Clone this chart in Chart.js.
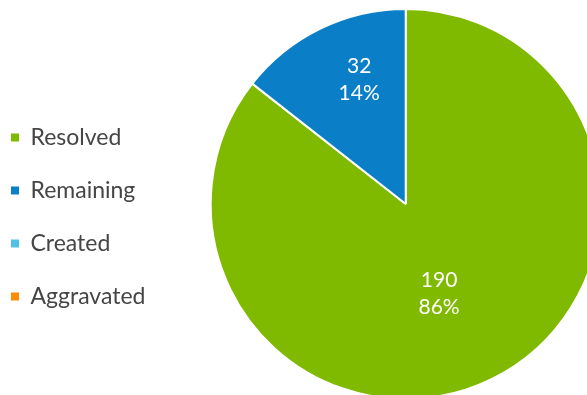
<!DOCTYPE html>
<html>
<head>
<meta charset="utf-8">
<script src="https://cdn.jsdelivr.net/npm/chart.js@4/dist/chart.umd.min.js"></script>
<style>
  html, body { margin: 0; padding: 0; background: #fff; overflow: hidden; }
  #wrap { width: 656px; height: 395px; position: relative; }
</style>
</head>
<body>
<div id="wrap"><canvas id="pieChart"></canvas></div>
<script>
    // Data for the chart
    const labels = ['Resolved', 'Remaining', 'Created', 'Aggravated'];
    const counts = [190, 32, 0, 0];
    const colors = ['#80BA00', '#0A7FC8', '#50C0E8', '#FF8C00'];

    // Value + percent labels drawn inside each slice
    const sliceLabels = {
        id: 'sliceLabels',
        afterDatasetsDraw(chart) {
            const ctx = chart.ctx;
            const meta = chart.getDatasetMeta(0);
            const total = counts.reduce((a, b) => a + b, 0);
            ctx.save();
            ctx.fillStyle = '#ffffff';
            ctx.font = '21px Lato';
            ctx.textAlign = 'center';
            ctx.textBaseline = 'middle';
            meta.data.forEach((arc, i) => {
                const v = counts[i];
                if (!v) return;
                const p = arc.getProps(['x', 'y', 'startAngle', 'endAngle', 'outerRadius'], true);
                const share = v / total;
                const mid = (p.startAngle + p.endAngle) / 2 + 0.095;
                const r = p.outerRadius * (0.45 + 0.27 * (1 - share));
                const cx = p.x + Math.cos(mid) * r;
                const cy = p.y + Math.sin(mid) * r;
                ctx.fillText(String(v), cx, cy - 13.5);
                ctx.fillText(Math.round(share * 100) + '%', cx, cy + 13.5);
            });
            ctx.restore();
        }
    };

    const ctxPie = document.getElementById('pieChart').getContext('2d');
    const pieChart = new Chart(ctxPie, {
        type: 'pie',
        data: {
            labels: labels,
            datasets: [{
                data: counts,
                backgroundColor: colors,
                borderColor: '#ffffff',
                borderWidth: 2,
                radius: 195
            }]
        },
        options: {
            responsive: true,
            maintainAspectRatio: false,
            animation: false,
            layout: {
                padding: { left: -19, right: 0, top: 13, bottom: 0 }
            },
            plugins: {
                tooltip: { enabled: false },
                legend: {
                    position: 'left',
                    title: {
                        display: true,
                        text: ' ',
                        font: { size: 10 },
                        padding: { top: 0, bottom: 14 }
                    },
                    labels: {
                        boxWidth: 8,
                        boxHeight: 8,
                        padding: 30,
                        color: '#454545',
                        font: { family: 'Lato', size: 23 },
                        generateLabels: function(chart) {
                            const items = Chart.overrides.pie.plugins.legend.labels.generateLabels(chart);
                            items.forEach(it => { it.lineWidth = 0; });
                            return items;
                        }
                    }
                }
            }
        },
        plugins: [sliceLabels]
    });
</script>
</body>
</html>
